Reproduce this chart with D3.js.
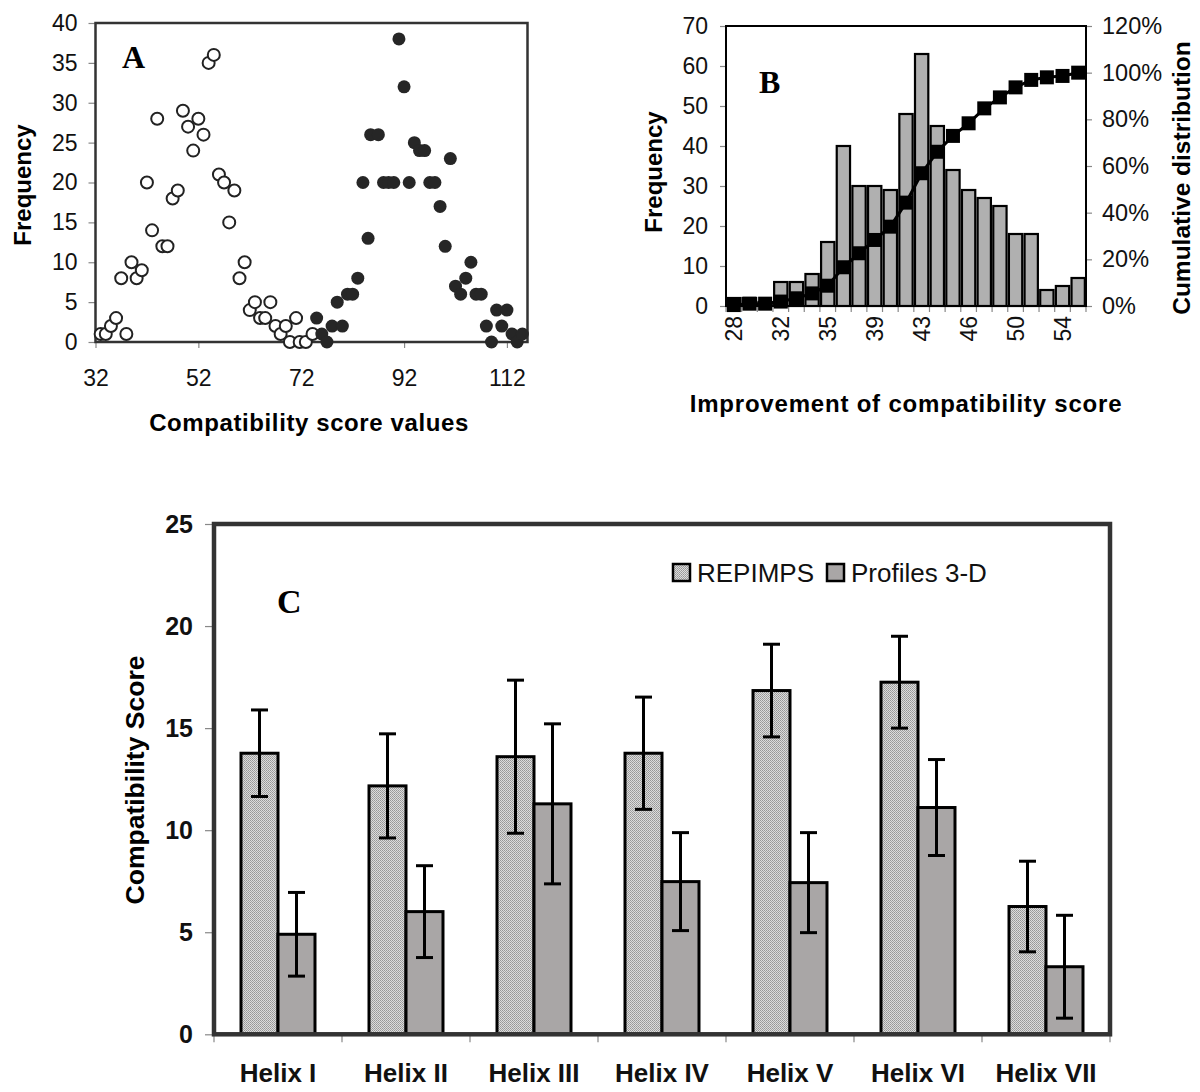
<!DOCTYPE html>
<html><head><meta charset="utf-8">
<script src="https://cdn.jsdelivr.net/npm/d3@7"></script>
<style>
body{margin:0;background:#fff;}
svg{display:block;font-family:"Liberation Sans",Arial,sans-serif;}
</style></head><body>
<svg id="chart" width="1200" height="1092"></svg>
<script>
// ---------- Panel A data ----------
const aOpenX = [33,34,35,36,37,38,39,40,41,42,43,44,45,46,47,48,49,50,51,52,53,54,55,56,57,58,59,60,61,62,63,64,65,66,67,68,69,69.8,71,71.7,72.9,74.2];
const aOpenY = [1,1,2,3,8,1,10,8,9,20,14,28,12,12,18,19,29,27,24,28,26,35,36,21,20,15,19,8,10,4,5,3,3,5,2,1,2,0,3,0,0,1];
const aFilledX = [75,76,77,78,79,80,81,82,83,84,85,85.5,87,88,89,90,91,92,93,94,95,96,97,98,99,100,101,102,103,104,105,106,107,108,109,110,111,112,113,114,115];
const aFilledY = [3,1,0,2,5,2,6,6,8,20,13,26,26,20,20,20,38,32,20,25,24,24,20,20,17,12,23,7,6,8,10,6,6,2,0,4,2,4,1,0,1];
const aTickX = [32,52,72,92,112];
const aTickY = [0,5,10,15,20,25,30,35,40];

// ---------- Panel B data ----------
const bCategories = ["28","29","30","32","33","34","35","37","38","39","40","42","43","44","45","46","48","49","50","51","53","54","55"];
const bFrequency = [2,2,1,6,6,8,16,40,30,30,29,48,63,45,34,29,27,25,18,18,4,5,7];
const bCumulative = [0.4,1,1,1.9,3.3,5.4,8.7,16.6,22.6,28.3,34,44.3,56.9,66.1,72.9,78.3,84.7,89.4,93.7,96.9,98,98.6,100];
const bTickY = [0,10,20,30,40,50,60,70];
const bTickCum = [0,20,40,60,80,100,120];

// ---------- Panel C data ----------
const cHelices = ["Helix I","Helix II","Helix III","Helix IV","Helix V","Helix VI","Helix VII"];
const cSeries = ["REPIMPS","Profiles 3-D"];
const cRepimps = [13.77,12.17,13.6,13.77,16.84,17.25,6.26];
const cRepimpsErr = [2.12,2.55,3.75,2.75,2.27,2.25,2.22];
const cProfiles = [4.9,6.01,11.29,7.48,7.43,11.11,3.31];
const cProfilesErr = [2.05,2.25,3.92,2.4,2.45,2.35,2.52];
const cTickY = [0,5,10,15,20,25];

const FONT = "Liberation Sans, Arial, sans-serif";
const SERIF = "Liberation Serif, Times New Roman, serif";
const svg = d3.select("#chart");

const defs = svg.append("defs");
const pat = defs.append("pattern").attr("id","stipple").attr("width",2).attr("height",2).attr("patternUnits","userSpaceOnUse");
pat.append("rect").attr("width",2).attr("height",2).attr("fill","#dcdcdc");
pat.append("rect").attr("width",1).attr("height",1).attr("fill","#979797");
pat.append("rect").attr("x",1).attr("y",1).attr("width",1).attr("height",1).attr("fill","#a4a4a4");

function styleAxis(g, size, weight, tickColor){
  g.attr("font-family", FONT);
  g.select(".domain").remove();
  g.selectAll(".tick line").attr("stroke", tickColor).attr("stroke-width",1.2);
  g.selectAll(".tick text").attr("font-size", size).attr("font-weight", weight).attr("fill","#111");
}

// ================= PANEL A =================
const A = {l:95.5, r:527.5, t:23, b:342};
const xA = d3.scaleLinear().domain([32,116]).range([A.l, A.r]);
const yA = d3.scaleLinear().domain([0,40]).range([A.b, A.t]);
const gA = svg.append("g");
gA.append("g").attr("transform",`translate(0,${A.b})`)
  .call(d3.axisBottom(xA).tickValues(aTickX).tickSize(6).tickPadding(22).tickFormat(d3.format("d")))
  .call(g=>styleAxis(g,23,"normal","#888"));
gA.append("g").attr("transform",`translate(${A.l},0)`)
  .call(d3.axisLeft(yA).tickValues(aTickY).tickSize(7).tickPadding(11).tickFormat(d3.format("d")))
  .call(g=>styleAxis(g,23,"normal","#888"));
gA.append("rect").attr("x",A.l).attr("y",A.t).attr("width",A.r-A.l).attr("height",A.b-A.t)
  .attr("fill","none").attr("stroke","#333").attr("stroke-width",2.5);
gA.selectAll("circle.open").data(aOpenX.map((x,i)=>({x, y:aOpenY[i]}))).join("circle")
  .attr("class","open").attr("cx",d=>xA(d.x)).attr("cy",d=>yA(d.y)).attr("r",6)
  .attr("fill","#fff").attr("stroke","#222").attr("stroke-width",2);
gA.selectAll("circle.filled").data(aFilledX.map((x,i)=>({x, y:aFilledY[i]}))).join("circle")
  .attr("class","filled").attr("cx",d=>xA(d.x)).attr("cy",d=>yA(d.y)).attr("r",6.5)
  .attr("fill","#262626");
gA.append("text").attr("transform","translate(31,185) rotate(-90)").attr("text-anchor","middle")
  .attr("font-family",FONT).attr("font-weight","bold").attr("font-size",24).text("Frequency");
gA.append("text").attr("x",309).attr("y",431).attr("text-anchor","middle")
  .attr("font-family",FONT).attr("font-weight","bold").attr("font-size",24).attr("letter-spacing",0.6).text("Compatibility score values");
gA.append("text").attr("x",122).attr("y",68).attr("font-family",SERIF).attr("font-weight","bold").attr("font-size",32).text("A");

// ================= PANEL B =================
const B = {l:726, r:1086, t:26, b:306};
const xB = d3.scaleBand().domain(bCategories).range([B.l,B.r]).paddingInner(0.15).paddingOuter(0.075);
const yB = d3.scaleLinear().domain([0,70]).range([B.b,B.t]);
const yB2 = d3.scaleLinear().domain([0,120]).range([B.b,B.t]);
const gB = svg.append("g");
gB.append("g").attr("transform",`translate(${B.l},0)`)
  .call(d3.axisLeft(yB).tickValues(bTickY).tickSize(6).tickPadding(12).tickFormat(d3.format("d")))
  .call(g=>styleAxis(g,23,"normal","#888"));
gB.append("g").attr("transform",`translate(${B.r},0)`)
  .call(d3.axisRight(yB2).tickValues(bTickCum).tickSize(6).tickPadding(10).tickFormat(d=>d+"%"))
  .call(g=>styleAxis(g,23.5,"normal","#888"));
const offB = (xB.step()-xB.bandwidth())/2;
const bBounds = bCategories.map(c=>xB(c)-offB).concat([xB(bCategories[bCategories.length-1])+xB.bandwidth()+offB]);
gB.selectAll("line.btick").data(bBounds).join("line").attr("class","btick")
  .attr("x1",d=>d).attr("x2",d=>d).attr("y1",B.b).attr("y2",B.b+6).attr("stroke","#888").attr("stroke-width",1.2);
gB.selectAll("text.blab").data(bCategories.filter((d,i)=>i%3===0)).join("text").attr("class","blab")
  .attr("transform",d=>`translate(${xB(d)+xB.bandwidth()/2+8},316) rotate(-90)`)
  .attr("text-anchor","end").attr("font-family",FONT).attr("font-size",23).attr("fill","#111").text(d=>d);
gB.selectAll("rect.bar").data(bCategories.map((c,i)=>({c, v:bFrequency[i]}))).join("rect").attr("class","bar")
  .attr("x",d=>xB(d.c)).attr("width",xB.bandwidth()).attr("y",d=>yB(d.v)).attr("height",d=>B.b-yB(d.v))
  .attr("fill","#b0b0b0").attr("stroke","#000").attr("stroke-width",2.2);
gB.append("rect").attr("x",B.l).attr("y",B.t).attr("width",B.r-B.l).attr("height",B.b-B.t)
  .attr("fill","none").attr("stroke","#000").attr("stroke-width",2);
const cumPts = bCategories.map((c,i)=>[xB(c)+xB.bandwidth()/2, yB2(bCumulative[i])]);
gB.append("path").attr("d",d3.line()(cumPts)).attr("fill","none").attr("stroke","#000").attr("stroke-width",3);
gB.selectAll("rect.sq").data(cumPts).join("rect").attr("class","sq")
  .attr("x",d=>d[0]-7).attr("y",d=>d[1]-7).attr("width",14).attr("height",14).attr("fill","#000");
gB.append("text").attr("transform","translate(662,172) rotate(-90)").attr("text-anchor","middle")
  .attr("font-family",FONT).attr("font-weight","bold").attr("font-size",24).text("Frequency");
gB.append("text").attr("transform","translate(1190,178) rotate(-90)").attr("text-anchor","middle")
  .attr("font-family",FONT).attr("font-weight","bold").attr("font-size",24.5).text("Cumulative distribution");
gB.append("text").attr("x",906).attr("y",412).attr("text-anchor","middle")
  .attr("font-family",FONT).attr("font-weight","bold").attr("font-size",24).attr("letter-spacing",0.8).text("Improvement of compatibility score");
gB.append("text").attr("x",759).attr("y",93).attr("font-family",SERIF).attr("font-weight","bold").attr("font-size",32).text("B");

// ================= PANEL C =================
const C = {l:214, r:1110, t:524, b:1034.3};
const x0 = d3.scaleBand().domain(cHelices).range([C.l,C.r]);
const x1 = d3.scaleBand().domain(cSeries).range([0,x0.bandwidth()]).paddingOuter(0.73);
const yC = d3.scaleLinear().domain([0,25]).range([C.b,C.t]);
const gC = svg.append("g");
gC.append("g").attr("transform",`translate(${C.l},0)`)
  .call(d3.axisLeft(yC).tickValues(cTickY).tickSize(9).tickPadding(12).tickFormat(d3.format("d")))
  .call(g=>styleAxis(g,25,"bold","#888"));
const cBounds = cHelices.map(h=>x0(h)).concat([C.r]);
gC.selectAll("line.ctick").data(cBounds).join("line").attr("class","ctick")
  .attr("x1",d=>d).attr("x2",d=>d).attr("y1",C.b).attr("y2",C.b+8).attr("stroke","#888").attr("stroke-width",1.2);
gC.selectAll("text.clab").data(cHelices).join("text").attr("class","clab")
  .attr("x",d=>x0(d)+x0.bandwidth()/2).attr("y",1082).attr("text-anchor","middle")
  .attr("font-family",FONT).attr("font-weight","bold").attr("font-size",26).attr("fill","#111").text(d=>d);
const cRows = [];
cHelices.forEach((h,i)=>{
  cRows.push({h, s:cSeries[0], v:cRepimps[i], e:cRepimpsErr[i]});
  cRows.push({h, s:cSeries[1], v:cProfiles[i], e:cProfilesErr[i]});
});
const fillC = {"REPIMPS":"url(#stipple)","Profiles 3-D":"#a9a6a6"};
gC.selectAll("rect.cbar").data(cRows).join("rect").attr("class","cbar")
  .attr("x",d=>x0(d.h)+x1(d.s)).attr("width",x1.bandwidth()).attr("y",d=>yC(d.v)).attr("height",d=>C.b-yC(d.v))
  .attr("fill",d=>fillC[d.s]).attr("stroke","#000").attr("stroke-width",3);
const eb = gC.selectAll("g.err").data(cRows).join("g").attr("class","err")
  .attr("transform",d=>`translate(${x0(d.h)+x1(d.s)+x1.bandwidth()/2},0)`);
eb.append("line").attr("x1",0).attr("x2",0).attr("y1",d=>yC(d.v+d.e)).attr("y2",d=>yC(d.v-d.e)).attr("stroke","#000").attr("stroke-width",3);
eb.append("line").attr("x1",-8.5).attr("x2",8.5).attr("y1",d=>yC(d.v+d.e)).attr("y2",d=>yC(d.v+d.e)).attr("stroke","#000").attr("stroke-width",3);
eb.append("line").attr("x1",-8.5).attr("x2",8.5).attr("y1",d=>yC(d.v-d.e)).attr("y2",d=>yC(d.v-d.e)).attr("stroke","#000").attr("stroke-width",3);
gC.append("rect").attr("x",C.l).attr("y",C.t).attr("width",C.r-C.l).attr("height",C.b-C.t)
  .attr("fill","none").attr("stroke","#333").attr("stroke-width",4.5);
gC.append("text").attr("transform","translate(144,780) rotate(-90)").attr("text-anchor","middle")
  .attr("font-family",FONT).attr("font-weight","bold").attr("font-size",26.5).text("Compatibility Score");
gC.append("text").attr("x",277).attr("y",613).attr("font-family",SERIF).attr("font-weight","bold").attr("font-size",34).text("C");
// legend
const legX = [673, 827];
const leg = gC.selectAll("g.leg").data(cSeries).join("g").attr("class","leg")
  .attr("transform",(d,i)=>`translate(${legX[i]},564)`);
leg.append("rect").attr("width",17).attr("height",17).attr("fill",d=>fillC[d]).attr("stroke","#000").attr("stroke-width",2.5);
leg.append("text").attr("x",24).attr("y",18).attr("font-family",FONT).attr("font-size",26).attr("fill","#111").text(d=>d);
</script>
</body></html>
